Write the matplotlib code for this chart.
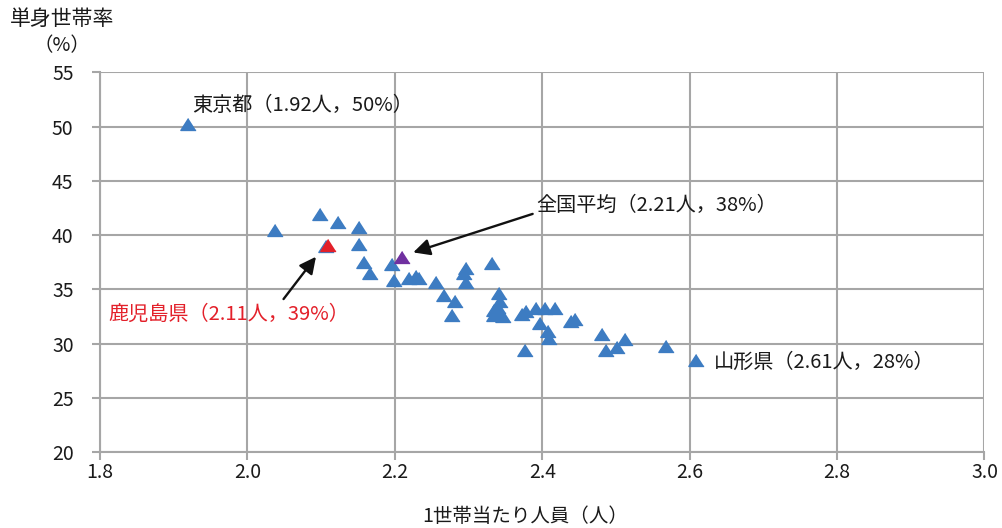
import matplotlib
matplotlib.use("Agg")
import matplotlib.pyplot as plt

plt.rcParams['font.family'] = ['Noto Sans CJK JP', 'DejaVu Sans']

# 都道府県別：1世帯当たり人員（人）と単身世帯率（%）
persons = [1.92, 2.038, 2.099, 2.123, 2.151, 2.107, 2.152, 2.158, 2.166,
           2.196, 2.199, 2.219, 2.229, 2.233, 2.256, 2.267, 2.282, 2.278,
           2.296, 2.294, 2.297,
           2.332, 2.341, 2.343, 2.334, 2.335, 2.347, 2.340, 2.342,
           2.372, 2.378, 2.392, 2.404, 2.418, 2.397, 2.408, 2.409, 2.377,
           2.439, 2.444,
           2.481, 2.487, 2.501, 2.512, 2.568, 2.609]
single = [50.2, 40.5, 41.9, 41.2, 40.7, 39.0, 39.2, 37.5, 36.5,
          37.3, 35.9, 36.0, 36.2, 36.0, 35.7, 34.5, 33.95, 32.6,
          37.0, 36.5, 35.7,
          37.4, 34.7, 33.95, 33.1, 32.6, 32.5, 33.4, 32.9,
          32.7, 33.0, 33.3, 33.3, 33.25, 31.9, 31.15, 30.5, 29.4,
          32.05, 32.3,
          30.9, 29.4, 29.7, 30.4, 29.8, 28.5]

kagoshima = (2.11, 39.1)
national = (2.21, 38.0)

x_ticks = [1.8, 2.0, 2.2, 2.4, 2.6, 2.8, 3.0]
y_ticks = [20, 25, 30, 35, 40, 45, 50, 55]

BLUE = '#3d7cc2'
RED = '#e3202a'
PURPLE = '#7030a0'
GRID = '#a6a6a6'
TEXT = '#1a1a1a'
tri = [(0, 0.78), (-1, -0.78), (1, -0.78)]
MS = 11

fig = plt.figure(figsize=(10.02, 5.28), dpi=100)
ax = fig.add_axes([0.0998, 0.1439, 0.8827, 0.7191])

ax.plot(persons, single, linestyle='none', marker=tri, markersize=MS,
        color=BLUE, zorder=3)
ax.plot([kagoshima[0]], [kagoshima[1]], linestyle='none', marker=tri,
        markersize=MS, color=RED, zorder=4)
ax.plot([national[0]], [national[1]], linestyle='none', marker=tri,
        markersize=MS, color=PURPLE, zorder=4)

ax.set_xlim(1.8, 3.0)
ax.set_ylim(20, 55)
ax.set_xticks(x_ticks)
ax.set_xticklabels([f'{v:.1f}' for v in x_ticks])
ax.set_yticks(y_ticks)
ax.tick_params(axis='both', labelsize=14, colors=GRID, labelcolor=TEXT,
               length=6, width=1.5, direction='out')
ax.tick_params(axis='x', pad=1)
ax.tick_params(axis='y', pad=13)

ax.grid(True, color=GRID, linewidth=1.5, zorder=0)
ax.set_axisbelow(True)
for side in ('top', 'right'):
    ax.spines[side].set_visible(False)
for side in ('left', 'bottom'):
    ax.spines[side].set_color(GRID)
    ax.spines[side].set_linewidth(1.5)

# 注記
fs = 14.5
ax.text(1.925, 51.9, '東京都（1.92人，50%）', fontsize=fs, color=TEXT,
        va='center', ha='left')
ax.text(2.392, 42.7, '全国平均（2.21人，38%）', fontsize=fs, color=TEXT,
        va='center', ha='left')
ax.text(1.812, 32.65, '鹿児島県（2.11人，39%）', fontsize=fs, color=RED,
        va='center', ha='left')
ax.text(2.633, 28.3, '山形県（2.61人，28%）', fontsize=fs, color=TEXT,
        va='center', ha='left')

arrow = dict(arrowstyle='-|>,head_length=1.0,head_width=0.5', color='#111111',
             lw=1.7, shrinkA=0, shrinkB=0)
ax.annotate('', xy=(2.093, 38.0), xytext=(2.049, 34.1), arrowprops=arrow)
ax.annotate('', xy=(2.225, 38.4), xytext=(2.387, 41.95), arrowprops=arrow)

fig.text(0.010, 0.964, '単身世帯率', fontsize=15, color=TEXT,
         ha='left', va='center')
fig.text(0.062, 0.913, '（%）', fontsize=14, color=TEXT,
         ha='center', va='center')
fig.text(0.524, 0.021, '1世帯当たり人員（人）', fontsize=14,
         color=TEXT, ha='center', va='center')

fig.savefig('out.png', dpi=100)
